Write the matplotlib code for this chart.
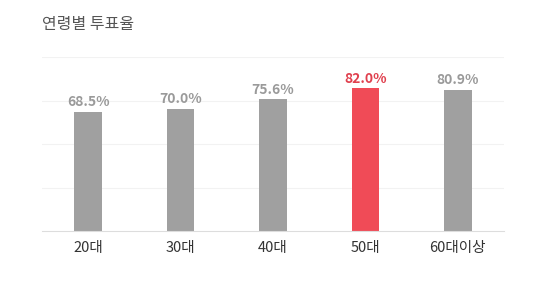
import matplotlib.pyplot as plt

plt.rcParams['font.family'] = ['Noto Sans CJK KR', 'DejaVu Sans']

categories = ["20대", "30대", "40대", "50대", "60대이상"]
values = [68.5, 70.0, 75.6, 82.0, 80.9]
highlight = "50대"

gray = "#a0a0a0"
red = "#f04b57"
colors = [red if c == highlight else gray for c in categories]
label_colors = ["#e0404e" if c == highlight else "#9a9a9a" for c in categories]

fig = plt.figure(figsize=(5.51, 2.83), dpi=100)
ax = fig.add_axes([42 / 551, 1 - 231 / 283, 462 / 551, 174 / 283])

x = range(len(categories))
ax.bar(x, values, width=0.3, color=colors, zorder=2)
for i, v in enumerate(values):
    ax.annotate(f"{v:.1f}%", (i, v), xytext=(0, 2), textcoords="offset points",
                ha="center", va="bottom", fontsize=10, fontweight="bold",
                color=label_colors[i])

ax.set_xlim(-0.5, len(categories) - 0.5)
ax.set_ylim(0, 100)
ax.set_yticks([25, 50, 75, 100])
ax.yaxis.grid(True, color="#f2f2f2", linewidth=0.8, zorder=0)
ax.tick_params(axis="y", left=False, labelleft=False)
ax.set_xticks(list(x))
ax.set_xticklabels(categories, fontsize=10.5, color="#333333")
ax.tick_params(axis="x", length=0, pad=7)
for s in ["top", "right", "left"]:
    ax.spines[s].set_visible(False)
ax.spines["bottom"].set_color("#dddddd")

fig.text(42 / 551, 1 - 25 / 283, "연령별 투표율", fontsize=11.5, color="#555555",
         ha="left", va="center")

fig.savefig("out.png", dpi=100)
